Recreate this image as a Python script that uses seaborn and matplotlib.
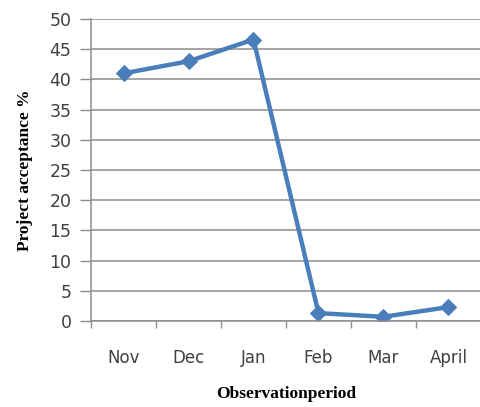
import matplotlib
matplotlib.use("Agg")
import matplotlib.pyplot as plt
from matplotlib.ticker import FixedLocator
import seaborn as sns
import pandas as pd

months = ["Nov", "Dec", "Jan", "Feb", "Mar", "April"]
acceptance = [41.0, 43.0, 46.6, 1.3, 0.7, 2.3]
y_ticks = [0, 5, 10, 15, 20, 25, 30, 35, 40, 45, 50]

df = pd.DataFrame({"month": months, "acceptance": acceptance})

sns.set_theme(style="white")
plt.rcParams["font.family"] = ["DejaVu Sans"]

fig = plt.figure(figsize=(4.81, 4.07), dpi=100)
ax = fig.add_axes([91 / 481, 1 - 321 / 407, 390 / 481, 302 / 407])

line_blue = "#4A7EBB"
sns.lineplot(data=df, x="month", y="acceptance", ax=ax, color=line_blue,
             linewidth=3.2, marker="D", markersize=8.5, markeredgecolor=line_blue,
             sort=False)

ax.set_xlim(-0.5, 5.5)
ax.set_ylim(0, 50)
ax.set_yticks(y_ticks)
ax.yaxis.grid(True, color="#8C8C8C", linewidth=1.1)
ax.set_axisbelow(True)

# month labels centred in each slot, tick marks on the slot boundaries
ax.set_xticks(range(len(months)))
ax.set_xticklabels(months)
ax.xaxis.set_minor_locator(FixedLocator([i - 0.5 for i in range(len(months) + 1)]))
ax.tick_params(axis="x", which="major", length=0, pad=20, labelsize=12, labelcolor="#404040")
ax.tick_params(axis="x", which="minor", length=5, width=1, color="#8C8C8C", bottom=True)
ax.tick_params(axis="y", length=8, width=1, color="#8C8C8C", left=True, pad=6,
               labelsize=12.5, labelcolor="#404040")

for side in ["top", "right"]:
    ax.spines[side].set_visible(False)
for side in ["left", "bottom"]:
    ax.spines[side].set_color("#8C8C8C")
    ax.spines[side].set_linewidth(1.1)

ax.set_xlabel("Observationperiod", family="Liberation Serif", fontweight="bold",
              fontsize=12.5, color="black", labelpad=14)
ax.set_ylabel("Project acceptance %", family="Liberation Serif", fontweight="bold",
              fontsize=12.5, color="black", labelpad=12)

fig.savefig("out.png", dpi=100)
